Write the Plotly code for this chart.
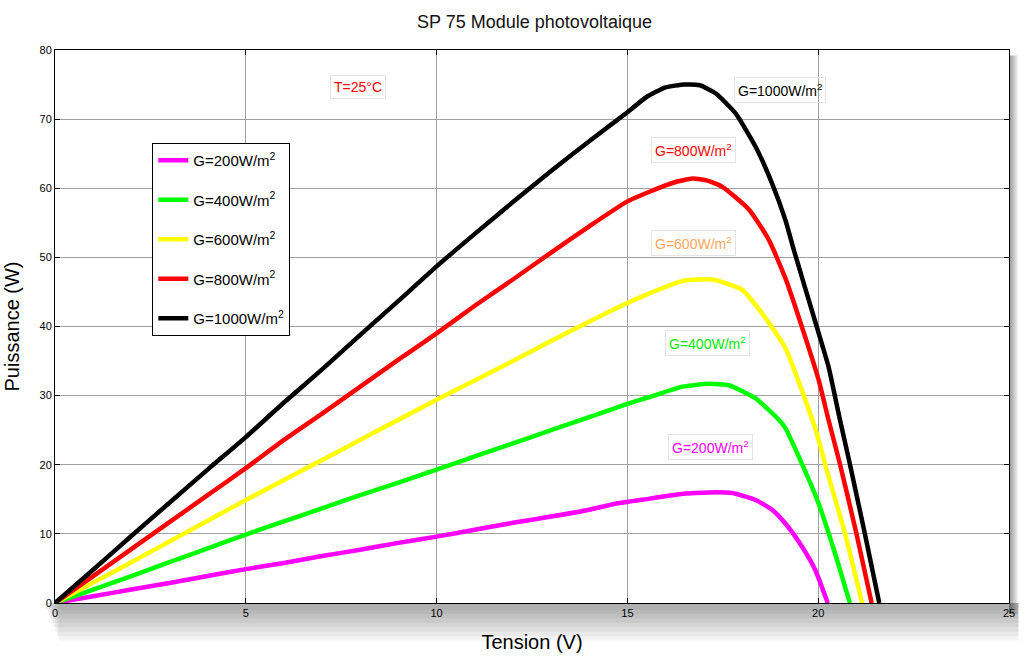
import plotly.graph_objects as go

# ---- data ----
v200 = [0, 1, 2, 3, 4, 5, 6, 7, 8, 9, 10, 11, 12, 13, 14, 14.71, 15.58, 16.45, 17.14, 17.75, 18.36, 18.79, 19.14, 19.57, 19.92, 20.25]
p200 = [0, 0.98, 1.95, 2.9, 3.9, 4.9, 5.8, 6.8, 7.7, 8.7, 9.6, 10.6, 11.6, 12.5, 13.5, 14.4, 15.1, 15.8, 16.0, 15.9, 14.9, 13.5, 11.5, 8.2, 4.8, 0]

v400 = [0, 1, 2, 3, 4, 5, 6, 7, 8, 9, 10, 11, 12, 13, 14, 15, 15.58, 16.45, 17.14, 17.66, 18.36, 18.97, 19.14, 19.57, 20.01, 20.44, 20.83]
p400 = [0, 1.95, 3.9, 5.9, 7.9, 9.9, 11.8, 13.7, 15.6, 17.4, 19.3, 21.2, 23.1, 25.0, 26.9, 28.8, 29.8, 31.3, 31.7, 31.5, 29.6, 26.5, 25.3, 20.2, 14.4, 7.2, 0]

v600 = [0, 1, 2, 3, 4, 5, 6, 7, 8, 9, 10, 11, 12, 13, 14, 15, 15.58, 16.45, 17.23, 18.01, 18.53, 18.97, 19.14, 19.57, 19.96, 20.18, 20.7, 21.15]
p600 = [0, 2.95, 5.9, 8.9, 11.9, 14.9, 17.8, 20.7, 23.6, 26.5, 29.4, 32.2, 35.0, 37.9, 40.7, 43.4, 44.8, 46.6, 46.8, 45.3, 41.9, 38.4, 36.9, 30.8, 24.6, 20.1, 10.1, 0]

v800 = [0, 1, 2, 3, 4, 5, 6, 7, 8, 9, 10, 11, 12, 13, 14, 15, 15.58, 16.2, 16.71, 17.1, 17.49, 18.19, 18.71, 19.14, 19.57, 20.01, 20.27, 20.57, 21.0, 21.4]
p800 = [0, 3.9, 7.8, 11.7, 15.6, 19.5, 23.6, 27.4, 31.3, 35.2, 39.0, 43.0, 46.8, 50.7, 54.5, 58.1, 59.5, 60.8, 61.4, 61.1, 60.2, 56.9, 52.5, 47.0, 40.0, 32.3, 26.5, 20.1, 10.1, 0]

v1000 = [0, 1, 2, 3, 4, 5, 6, 7, 8, 9, 10, 11, 12, 13, 14, 15, 15.5, 16.0, 16.5, 16.9, 17.32, 17.84, 18.36, 18.79, 19.14, 19.36, 19.96, 20.27, 20.57, 20.83, 21.22, 21.6]
p1000 = [0, 4.8, 9.7, 14.5, 19.3, 24.0, 29.0, 33.8, 38.8, 43.7, 48.7, 53.4, 58.0, 62.5, 66.8, 71.0, 73.2, 74.6, 75.0, 74.9, 73.7, 70.8, 66.0, 60.7, 55.4, 51.1, 40.0, 34.2, 26.5, 20.1, 10.1, 0]

series_names = ["G=200W/m<sup>2</sup>", "G=400W/m<sup>2</sup>", "G=600W/m<sup>2</sup>",
                "G=800W/m<sup>2</sup>", "G=1000W/m<sup>2</sup>"]
series_colors = ["#ff00ff", "#00ff00", "#ffff00", "#ff0000", "#000000"]
series_v = [v200, v400, v600, v800, v1000]
series_p = [p200, p400, p600, p800, p1000]

x_ticks = [0, 5, 10, 15, 20, 25]
y_ticks = [0, 10, 20, 30, 40, 50, 60, 70, 80]

label_texts = ["T=25°C", "G=1000W/m<sup>2</sup>", "G=800W/m<sup>2</sup>", "G=600W/m<sup>2</sup>",
               "G=400W/m<sup>2</sup>", "G=200W/m<sup>2</sup>"]
label_x = [7.94, 19.01, 16.74, 16.72, 17.11, 17.19]
label_y = [74.6, 74.2, 65.5, 52.1, 37.6, 22.6]
label_colors = ["#ff0000", "#000000", "#ff0000", "#ffa35c", "#00ee00", "#ff00ff"]

FONT = "Liberation Sans, Arial"

fig = go.Figure()
for i in range(5):
    fig.add_trace(go.Scatter(x=series_v[i], y=series_p[i], mode="lines", name=series_names[i],
                             legendgroup=str(i),
                             line=dict(color=series_colors[i], width=4.5,
                                       shape="spline", smoothing=0.5)))

for t, x, y, c in zip(label_texts, label_x, label_y, label_colors):
    fig.add_annotation(x=x, y=y, text=t, showarrow=False,
                       font=dict(family=FONT, size=14, color=c),
                       bordercolor="#e4e4e4", borderwidth=1, borderpad=3)

# soft shadow outside the axes box (bottom and right bands)
for k in range(8):
    fig.add_shape(type="rect", xref="paper", yref="paper", layer="below",
                  x0=-0.01 + k * 0.002, x1=1.01,
                  y0=-0.012 - k * 0.008, y1=0,
                  line=dict(width=0), fillcolor="rgba(0,0,0,0.045)")
    fig.add_shape(type="rect", xref="paper", yref="paper", layer="below",
                  x0=1.0, x1=1.001 + k * 0.0012,
                  y0=-0.02, y1=0.99,
                  line=dict(width=0), fillcolor="rgba(0,0,0,0.06)")

fig.update_layout(
    width=1024, height=667,
    margin=dict(l=55, r=9, t=50, b=64),
    paper_bgcolor="white", plot_bgcolor="white",
    title=dict(text="SP 75 Module photovoltaique", x=0.522, xanchor="center",
               y=1 - 22 / 667, yanchor="middle",
               font=dict(family=FONT, size=18, color="#111")),
    showlegend=True,
    legend=dict(x=0.102, y=0.832, xanchor="left", yanchor="top",
                bgcolor="white", bordercolor="black", borderwidth=1,
                tracegroupgap=17,
                font=dict(family=FONT, size=15, color="black")),
    font=dict(family=FONT, size=11, color="black"),
)
fig.update_xaxes(range=[0, 25], tickvals=x_ticks, ticktext=[str(v) for v in x_ticks],
                 showgrid=True, gridcolor="#a0a0a0", gridwidth=1,
                 showline=True, linecolor="black", linewidth=1, mirror="ticks",
                 ticks="inside", ticklen=5, tickcolor="black", zeroline=False,
                 tickfont=dict(family=FONT, size=11),
                 title=dict(text="Tension (V)", standoff=16,
                            font=dict(family=FONT, size=20, color="black")))
fig.update_yaxes(range=[0, 80], tickvals=y_ticks, ticktext=[str(v) for v in y_ticks],
                 showgrid=True, gridcolor="#a0a0a0", gridwidth=1,
                 showline=True, linecolor="black", linewidth=1, mirror="ticks",
                 ticks="inside", ticklen=5, tickcolor="black", zeroline=False,
                 tickfont=dict(family=FONT, size=11),
                 title=dict(text="Puissance (W)", standoff=14,
                            font=dict(family=FONT, size=20, color="black")))

fig.write_html("out.html")
